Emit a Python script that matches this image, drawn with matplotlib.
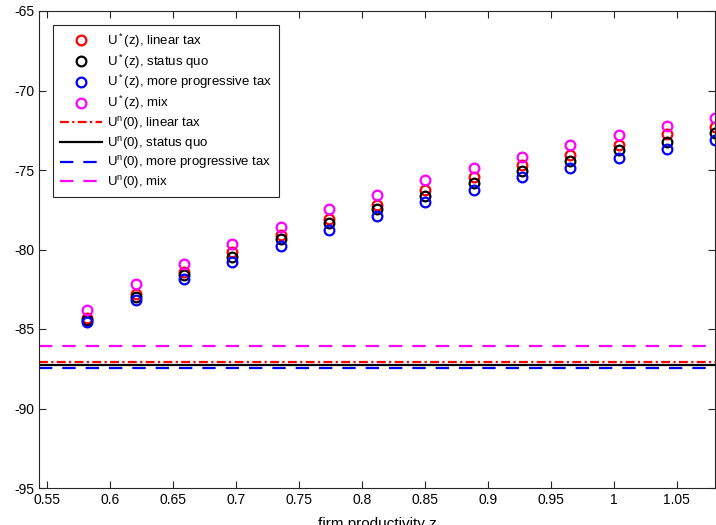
import matplotlib
matplotlib.use('Agg')
import matplotlib.pyplot as plt
from matplotlib.ticker import FormatStrFormatter

plt.rcParams['font.family'] = ['Liberation Sans', 'DejaVu Sans']
plt.rcParams['mathtext.fontset'] = 'custom'
plt.rcParams['mathtext.rm'] = 'Liberation Sans'
plt.rcParams['mathtext.it'] = 'Liberation Sans'

# firm productivity grid
z = [0.5822, 0.6205, 0.6589, 0.6972, 0.7355, 0.7739, 0.8122,
     0.8505, 0.8889, 0.9272, 0.9655, 1.0039, 1.0422, 1.0805]

# U*(z) for each tax regime
u_linear = [-84.33, -82.80, -81.43, -80.18, -79.09, -78.10, -77.18,
            -76.24, -75.46, -74.69, -74.06, -73.41, -72.76, -72.28]
u_status_quo = [-84.43, -82.97, -81.60, -80.45, -79.36, -78.35, -77.43,
                -76.62, -75.80, -75.04, -74.42, -73.76, -73.22, -72.65]
u_progressive = [-84.58, -83.18, -81.86, -80.80, -79.78, -78.77, -77.87,
                 -77.01, -76.28, -75.46, -74.90, -74.27, -73.70, -73.11]
u_mix = [-83.80, -82.15, -80.89, -79.68, -78.58, -77.47, -76.55,
         -75.65, -74.87, -74.16, -73.45, -72.78, -72.23, -71.71]

# U^n(0) for each tax regime
un_linear = -87.06
un_status_quo = -87.25
un_progressive = -87.45
un_mix = -86.05

fig = plt.figure(figsize=(7.16, 5.25), dpi=100)
ax = fig.add_axes([39 / 716, 37 / 525, 676 / 716, 477 / 525])

mk = dict(linestyle='none', marker='o', markersize=7, markeredgewidth=1.6,
          markerfacecolor='none')
ax.plot(z, u_linear, color='#ff0000', label='U$^*$(z), linear tax', **mk)
ax.plot(z, u_status_quo, color='black', label='U$^*$(z), status quo', **mk)
ax.plot(z, u_progressive, color='#0000ff', label='U$^*$(z), more progressive tax', **mk)
ax.plot(z, u_mix, color='#ff00ff', label='U$^*$(z), mix', **mk)

ax.axhline(un_linear, color='#ff0000', lw=1.6, dashes=(4, 1.5, 1, 1.5),
           label='U$^{\\rm n}$(0), linear tax')
ax.axhline(un_status_quo, color='black', lw=1.6, label='U$^{\\rm n}$(0), status quo')
ax.axhline(un_progressive, color='#0000ff', lw=1.6, dashes=(6, 4.5),
           label='U$^{\\rm n}$(0), more progressive tax')
ax.axhline(un_mix, color='#ff00ff', lw=1.6, dashes=(6, 4.5),
           label='U$^{\\rm n}$(0), mix')

ax.set_xlim(0.5437, 1.0805)
ax.set_ylim(-95, -65)
ax.set_xticks([0.55, 0.6, 0.65, 0.7, 0.75, 0.8, 0.85, 0.9, 0.95, 1.0, 1.05])
ax.set_yticks([-95, -90, -85, -80, -75, -70, -65])
ax.xaxis.set_major_formatter(FormatStrFormatter('%g'))
ax.yaxis.set_major_formatter(FormatStrFormatter('%g'))
ax.tick_params(direction='in', length=5, width=0.8, top=True, right=True,
               labelsize=10, colors='#262626', labelcolor='black')
for s in ax.spines.values():
    s.set_color('#262626')
    s.set_linewidth(0.8)

ax.set_xlabel('firm productivity z', fontsize=11, labelpad=7)

leg = ax.legend(loc='upper left', bbox_to_anchor=(14 / 676, 1 - 14 / 477),
                borderaxespad=0, fontsize=9.5, frameon=True, fancybox=False,
                edgecolor='#262626', handlelength=3.2, handletextpad=0.4,
                labelspacing=0.2, borderpad=0.5, framealpha=1)
leg.get_frame().set_linewidth(0.8)

fig.savefig('out.png', dpi=100)
